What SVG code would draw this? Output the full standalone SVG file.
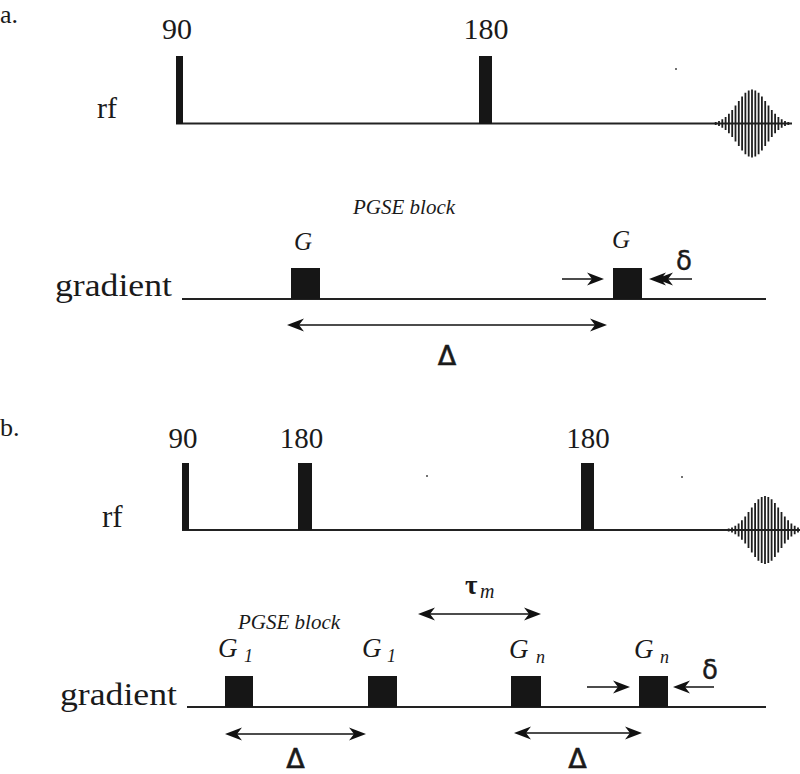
<svg xmlns="http://www.w3.org/2000/svg" width="800" height="774" viewBox="0 0 800 774">
<style>
  .lbl{font-family:"Liberation Serif","Times New Roman",serif;fill:#1a1a1a}
  .it{font-family:"Liberation Serif","Times New Roman",serif;font-style:italic;fill:#1a1a1a}
  .sym{font-family:"DejaVu Sans","Liberation Sans",sans-serif;fill:#1a1a1a}
  .base{stroke:#222;stroke-width:1.8;fill:none}
  .pulse{fill:#161616}
  .arr{stroke:#111;stroke-width:1.5;fill:none}
  .echo{stroke:#1e1e1e;stroke-width:1.8;fill:none}
</style>
<defs>
  <marker id="ah" markerUnits="userSpaceOnUse" viewBox="-14 -8 20 16" refX="0" refY="0" markerWidth="20" markerHeight="16" orient="auto-start-reverse">
    <path d="M4,0 L-13,-6.5 L-8,0 L-13,6.5 Z" fill="#111"/>
  </marker>
  <marker id="ah2" markerUnits="userSpaceOnUse" viewBox="-22 -8 28 16" refX="0" refY="0" markerWidth="28" markerHeight="16" orient="auto">
    <path d="M4,0 L-13,-6.5 L-8,0 L-13,6.5 Z M-3,0 L-20,-6.5 L-15,0 L-20,6.5 Z" fill="#111"/>
  </marker>
  <path id="echo" class="echo" d="M0,-34v68 M3.3,-33.1v66.2 M-3.3,-33.1v66.2 M6.6,-30.7v61.4 M-6.6,-30.7v61.4 M9.9,-27v54 M-9.9,-27v54 M13.2,-22.6v45.2 M-13.2,-22.6v45.2 M16.5,-17.9v35.8 M-16.5,-17.9v35.8 M19.8,-13.5v27 M-19.8,-13.5v27 M23.1,-9.7v19.4 M-23.1,-9.7v19.4 M26.4,-6.6v13.2 M-26.4,-6.6v13.2 M29.7,-4.3v8.6 M-29.7,-4.3v8.6 M33,-2.6v5.2 M-33,-2.6v5.2 M36.3,-1.5v3 M-36.3,-1.5v3"/>
</defs>
<rect width="800" height="774" fill="#fff"/>

<!-- Panel a -->
<g id="panel-a-label"><text class="lbl" x="0" y="23" font-size="26">a.</text></g>
<g id="a-rf">
  <text class="lbl" x="97" y="118" font-size="30">rf</text>
  <line class="base" x1="176" y1="123.5" x2="792" y2="123.5"/>
  <circle cx="676" cy="69" r="1" fill="#444"/>
</g>
<g id="a-pulse90">
  <text class="lbl" x="177" y="39" font-size="30" text-anchor="middle">90</text>
  <rect class="pulse" x="176" y="56" width="7" height="68"/>
</g>
<g id="a-pulse180">
  <text class="lbl" x="486" y="39" font-size="30" text-anchor="middle">180</text>
  <rect class="pulse" x="479" y="56" width="13" height="68"/>
</g>
<g id="a-echo"><use href="#echo" transform="translate(752,123.5)"/></g>
<g id="a-gradient">
  <text class="lbl" x="55" y="296" font-size="31" textLength="117" lengthAdjust="spacingAndGlyphs">gradient</text>
  <line class="base" x1="182" y1="299" x2="766" y2="299"/>
  <text class="it" x="353" y="214" font-size="21">PGSE block</text>
</g>
<g id="a-G1">
  <text class="it" x="294" y="250" font-size="25">G</text>
  <rect class="pulse" x="291" y="268" width="29" height="31"/>
</g>
<g id="a-G2">
  <text class="it" x="612" y="248" font-size="25">G</text>
  <rect class="pulse" x="613" y="268" width="29" height="31"/>
</g>
<g id="a-labels">
  <text class="sym" x="447" y="365" font-size="27" text-anchor="middle" stroke="#1a1a1a" stroke-width="0.6">Δ</text>
  <text class="sym" x="676" y="270" font-size="26" stroke="#1a1a1a" stroke-width="0.4">δ</text>
</g>

<!-- Panel b -->
<g id="panel-b-label"><text class="lbl" x="0" y="436" font-size="26">b.</text></g>
<g id="b-rf">
  <text class="lbl" x="102" y="527" font-size="31">rf</text>
  <line class="base" x1="182" y1="530" x2="800" y2="530"/>
  <circle cx="427" cy="476" r="1" fill="#444"/>
  <circle cx="682" cy="477" r="1" fill="#444"/>
</g>
<g id="b-pulse90">
  <text class="lbl" x="183" y="448" font-size="29" text-anchor="middle">90</text>
  <rect class="pulse" x="182" y="463" width="7" height="67"/>
</g>
<g id="b-pulse180a">
  <text class="lbl" x="301.5" y="448" font-size="29" text-anchor="middle">180</text>
  <rect class="pulse" x="298" y="463" width="14" height="67"/>
</g>
<g id="b-pulse180b">
  <text class="lbl" x="588" y="448" font-size="29" text-anchor="middle">180</text>
  <rect class="pulse" x="581" y="463" width="13" height="67"/>
</g>
<g id="b-echo"><use href="#echo" transform="translate(765,530)"/></g>
<g id="b-gradient">
  <text class="lbl" x="60" y="705" font-size="31" textLength="117" lengthAdjust="spacingAndGlyphs">gradient</text>
  <line class="base" x1="187" y1="707" x2="766" y2="707"/>
  <text class="it" x="238" y="629" font-size="21">PGSE block</text>
</g>
<g id="b-G1a">
  <text class="it" x="218" y="657" font-size="27">G</text>
  <text class="it" x="244" y="662" font-size="18">1</text>
  <rect class="pulse" x="225" y="676" width="28" height="31"/>
</g>
<g id="b-G1b">
  <text class="it" x="362" y="657" font-size="27">G</text>
  <text class="it" x="387" y="662" font-size="18">1</text>
  <rect class="pulse" x="368" y="676" width="29" height="31"/>
</g>
<g id="b-Gna">
  <text class="it" x="509" y="658" font-size="27">G</text>
  <text class="it" x="536" y="663" font-size="18">n</text>
  <rect class="pulse" x="511" y="676" width="30" height="31"/>
</g>
<g id="b-Gnb">
  <text class="it" x="634" y="658" font-size="27">G</text>
  <text class="it" x="660" y="663" font-size="18">n</text>
  <rect class="pulse" x="639" y="676" width="29" height="31"/>
</g>
<g id="b-labels">
  <text class="lbl" x="465" y="594" font-size="27" font-weight="bold">τ</text>
  <text class="it" x="480" y="598" font-size="20">m</text>
  <text class="sym" x="702" y="679" font-size="26" stroke="#1a1a1a" stroke-width="0.4">δ</text>
  <text class="sym" x="295.5" y="768" font-size="27" text-anchor="middle" stroke="#1a1a1a" stroke-width="0.6">Δ</text>
  <text class="sym" x="577.5" y="768" font-size="27" text-anchor="middle" stroke="#1a1a1a" stroke-width="0.6">Δ</text>
</g>

<!-- Connectors -->
<g id="connectors">
  <line class="arr" x1="291" y1="325" x2="603" y2="325" marker-start="url(#ah)" marker-end="url(#ah)"/>
  <line class="arr" x1="562" y1="279" x2="600" y2="279" marker-end="url(#ah)"/>
  <line class="arr" x1="692" y1="279" x2="653" y2="279" marker-end="url(#ah2)"/>
  <line class="arr" x1="229" y1="734" x2="362" y2="734" marker-start="url(#ah)" marker-end="url(#ah)"/>
  <line class="arr" x1="518" y1="733" x2="638" y2="733" marker-start="url(#ah)" marker-end="url(#ah)"/>
  <line class="arr" x1="422" y1="614" x2="537" y2="614" marker-start="url(#ah)" marker-end="url(#ah)"/>
  <line class="arr" x1="587" y1="687" x2="626" y2="687" marker-end="url(#ah)"/>
  <line class="arr" x1="714" y1="687" x2="677" y2="687" marker-end="url(#ah)"/>
</g>
</svg>
